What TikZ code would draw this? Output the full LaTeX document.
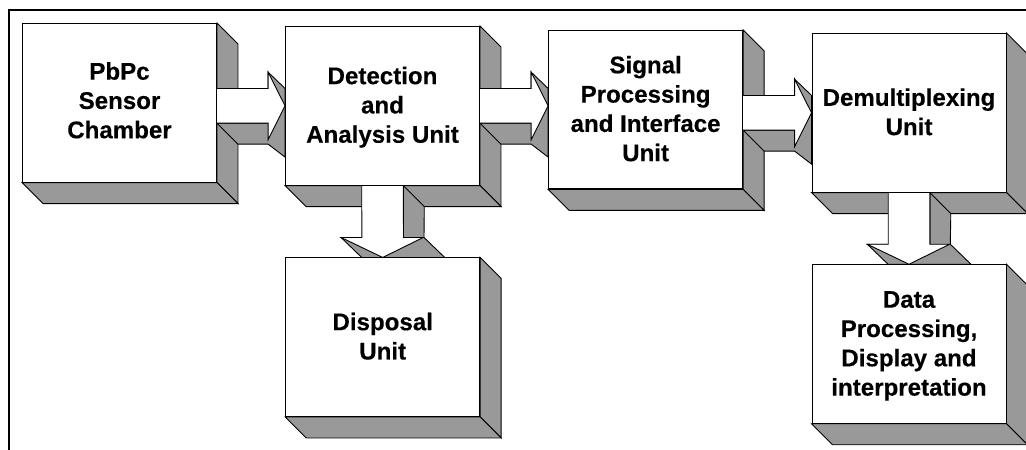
\documentclass[tikz,border=0pt]{standalone}
\usepackage{fontspec}
\setmainfont[BoldFeatures={FakeBold=0.3}]{Liberation Sans}
\usetikzlibrary{calc}
\pgfdeclarelayer{back}
\pgfsetlayers{back,main}
\definecolor{shade}{HTML}{999999}
\tikzset{
  x=1pt,y=-1pt,
  front/.style={draw=black,fill=white,line width=0.9pt,inner sep=0pt,
    minimum width=194pt,minimum height=158.6pt,align=center,
    font=\fontsize{24.1}{29.3}\selectfont\bfseries},
  side/.style={draw=black,fill=shade,line width=0.9pt,line join=miter},
  white arrow/.style={draw=black,fill=white,line width=0.9pt,line join=miter},
  frame line/.style={draw=black,line width=2.2pt}
}
% extruded sides of a box, drawn behind its front
\newcommand\boxsides[1]{%
  \begin{pgfonlayer}{back}
  \path[side] (#1.north east) -- ++(21,21) -- ($(#1.south east)+(21,21)$) -- (#1.south east) -- cycle;
  \path[side] (#1.south west) -- ++(21,21) -- ($(#1.south east)+(21,21)$) -- (#1.south east) -- cycle;
  \end{pgfonlayer}}
% horizontal block arrow from node #1 to node #2; #3 shifts the tip from the centre of #2's left side
\newcommand\rightblock[3]{%
  \begin{pgfonlayer}{back}
  \coordinate (tip) at ($(#2.west)+(0,#3)$);
  \coordinate (st) at (#1.east |- tip);
  \path[side] ($(st)+(0,17.3)$) -- ++(21,21) -- ($(tip)+(-17,38.3)$) -- ($(tip)+(0,51.3)$) -- ($(tip)+(0,-17.3)$) -- ($(tip)+(-17,-33.7)$) -- ($(tip)+(-17,17.3)$) -- cycle;
  \path[white arrow] ($(st)+(0,-17.3)$) -- ($(tip)+(-17,-17.3)$) -- ($(tip)+(-17,-33.7)$) -- (tip) -- ($(tip)+(-17,34)$) -- ($(tip)+(-17,17.3)$) -- ($(st)+(0,17.3)$);
  \end{pgfonlayer}}
% vertical block arrow from node #1 to node #2
\newcommand\downblock[2]{%
  \begin{pgfonlayer}{back}
  \coordinate (tip) at (#2.north);
  \coordinate (st) at (#1.south);
  \path[side] ($(st)+(20.8,0)$) -- ++(21,21) -- ($(tip)+(41.3,-20)$) -- ($(tip)+(62,0)$) -- ($(tip)+(-21,0)$) -- ($(tip)+(-41.7,-20)$) -- ($(tip)+(20.8,-20)$) -- cycle;
  \path[white arrow] ($(st)+(-20.8,0)$) -- ($(tip)+(-20.8,-20)$) -- ($(tip)+(-41.7,-20)$) -- (tip) -- ($(tip)+(40.6,-20)$) -- ($(tip)+(20.8,-20)$) -- ($(st)+(20.8,0)$);
  \end{pgfonlayer}}
\newcommand\lifted[2]{\raisebox{\dimexpr #1-6pt\relax}[0pt][0pt]{\begin{tabular}{@{}c@{}}#2\end{tabular}}}
\begin{document}
\begin{tikzpicture}
\useasboundingbox (0,0) rectangle (1026,450);
\clip (0,0) rectangle (1026,450);
\coordinate (fa) at (9,450);
\coordinate (fb) at (9,10.3);
\coordinate (fc) at (1026,10.3);
\draw[frame line] (fa) -- (fb) -- (fc);
\node[front] (chamber) at (119.5,102.8) {\lifted{-0.5pt}{PbPc\\Sensor\\Chamber}};
\node[front] (detect) at (382.5,105.8) {\lifted{-2pt}{Detection\\and\\Analysis Unit}};
\node[front] (signal) at (645.6,109.6) {\lifted{-2pt}{Signal\\Processing\\and Interface\\Unit}};
\node[front] (demux) at (909,112.8) {\lifted{-2pt}{Demultiplexing\\Unit}};
\node[front] (disposal) at (382.7,337.2) {\lifted{-2pt}{Disposal\\Unit}};
\node[front] (data) at (909,344) {\lifted{-2pt}{Data\\Processing,\\Display and\\interpretation}};
\boxsides{chamber}\boxsides{detect}\boxsides{signal}\boxsides{demux}\boxsides{disposal}\boxsides{data}
\rightblock{chamber}{detect}{0}
\rightblock{detect}{signal}{-3.8}
\rightblock{signal}{demux}{0}
\downblock{detect}{disposal}
\downblock{demux}{data}
\end{tikzpicture}
\end{document}
